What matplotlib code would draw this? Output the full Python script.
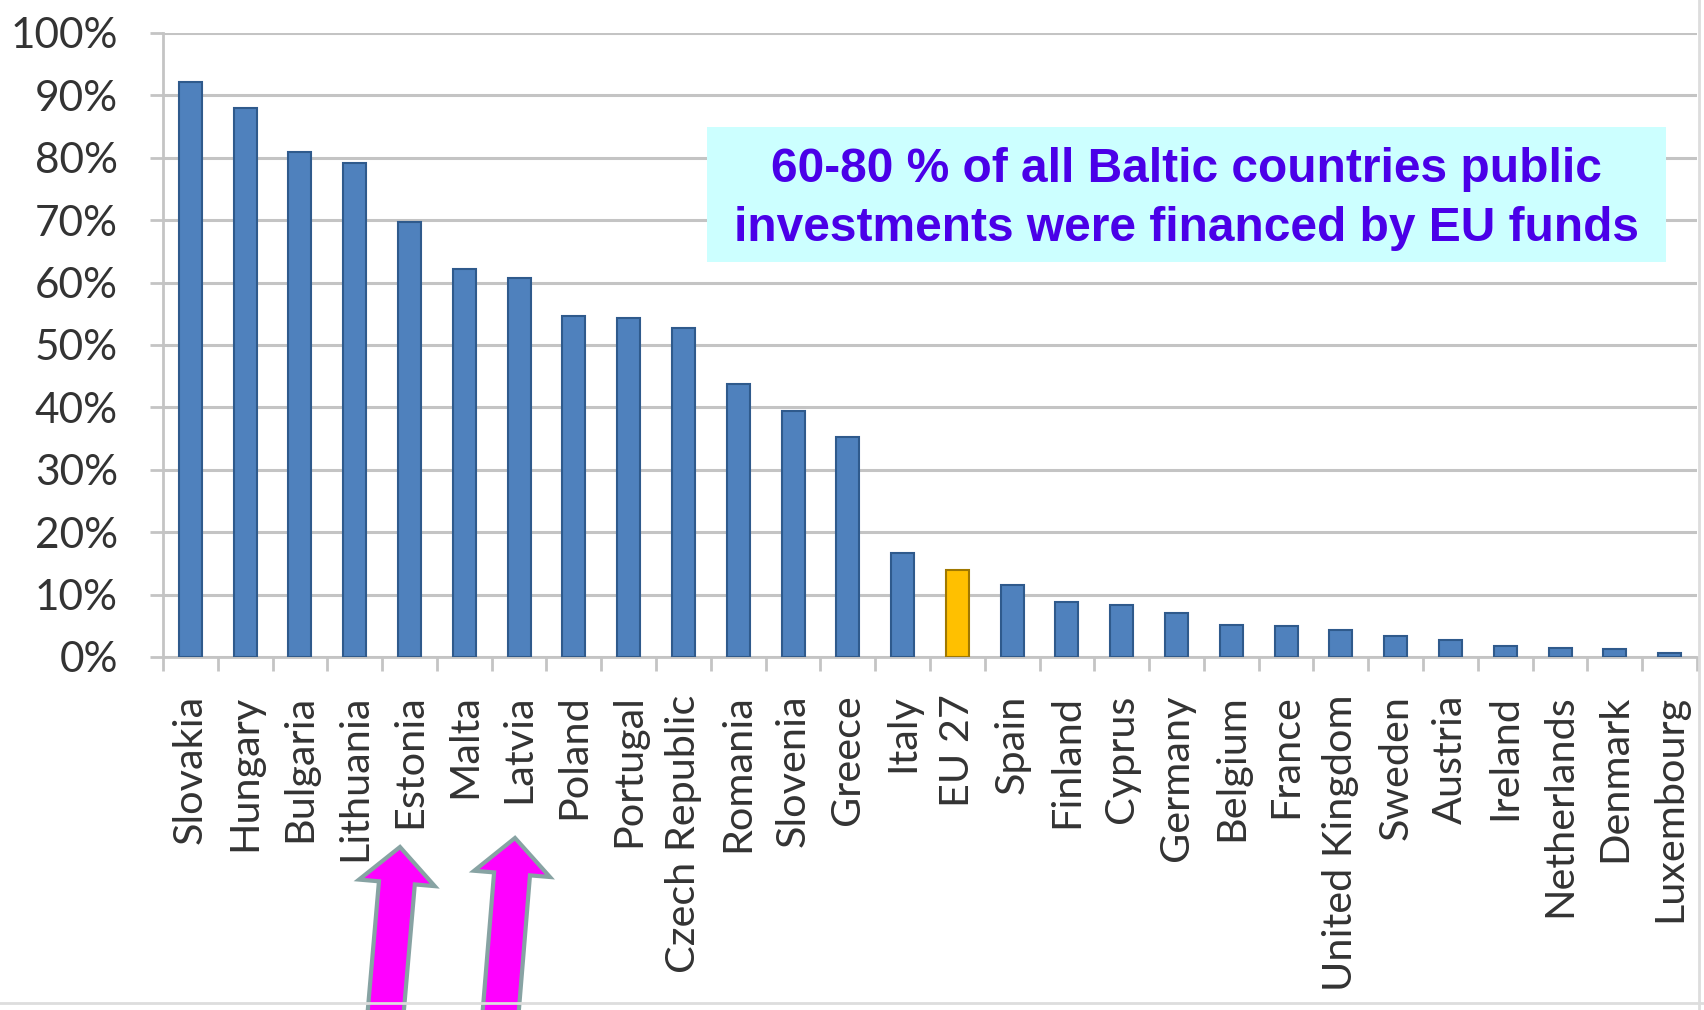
import matplotlib
matplotlib.use("Agg")
import matplotlib.pyplot as plt
from matplotlib.patches import FancyArrow, Rectangle
from matplotlib.lines import Line2D
import numpy as np

countries = ["Slovakia", "Hungary", "Bulgaria", "Lithuania", "Estonia", "Malta",
             "Latvia", "Poland", "Portugal", "Czech Republic", "Romania", "Slovenia",
             "Greece", "Italy", "EU 27", "Spain", "Finland", "Cyprus", "Germany",
             "Belgium", "France", "United Kingdom", "Sweden", "Austria", "Ireland",
             "Netherlands", "Denmark", "Luxembourg"]
shares = [92.1, 88.0, 81.0, 79.2, 69.7, 62.1, 60.7, 54.6, 54.4, 52.7, 43.7, 39.5,
          35.3, 16.7, 13.9, 11.5, 8.8, 8.3, 7.0, 5.2, 4.9, 4.3, 3.3, 2.7, 1.8,
          1.4, 1.3, 0.6]
highlight = "EU 27"
yticks = [0, 10, 20, 30, 40, 50, 60, 70, 80, 90, 100]

W, H = 1704, 1010
fig = plt.figure(figsize=(W / 100, H / 100), dpi=100)
ax = fig.add_axes([163 / W, 1 - 657 / H, (1697 - 163) / W, (657 - 33) / H])

x = np.arange(len(countries))
colors = ["#FFC000" if c == highlight else "#4F81BD" for c in countries]
edges = ["#A07800" if c == highlight else "#2F5A8C" for c in countries]
ax.bar(x, shares, width=0.42, color=colors, edgecolor=edges, linewidth=1.5, zorder=3)

ax.set_xlim(-0.5, len(countries) - 0.5)
ax.set_ylim(0, 100)
ax.set_yticks(yticks)
ax.set_yticklabels([f"{v}%" for v in yticks])
ax.yaxis.grid(True, color="#C4C4C4", linewidth=2.2, zorder=0)
ax.set_axisbelow(True)

ax.set_xticks(x)
ax.set_xticklabels(countries, rotation=90, va="top", ha="center")
ax.set_xticks(np.arange(len(countries) + 1) - 0.5, minor=True)

for lab in ax.get_xticklabels():
    lab.set_fontfamily("Lato")
    lab.set_fontsize(29.8)
    lab.set_color("#333333")
for lab in ax.get_yticklabels():
    lab.set_fontfamily("Lato")
    lab.set_fontsize(30.5)
    lab.set_color("#333333")

ax.tick_params(axis="y", length=9.5, width=2, color="#C4C4C4", pad=23)
ax.tick_params(axis="x", which="major", length=0, pad=27)
ax.tick_params(axis="x", which="minor", length=10, width=2, color="#C4C4C4")

for side in ["top", "right"]:
    ax.spines[side].set_visible(False)
for side in ["left", "bottom"]:
    ax.spines[side].set_color("#C4C4C4")
    ax.spines[side].set_linewidth(2)

# callout box
fig.add_artist(Rectangle((707 / W, 1 - 262 / H), (1666 - 707) / W, (262 - 127) / H,
                         transform=fig.transFigure, facecolor="#CCFFFF",
                         edgecolor="none", zorder=4))
fig.text(1186 / W, 1 - 199 / H,
         "60-80 % of all Baltic countries public\ninvestments were financed by EU funds",
         ha="center", va="center", family="Liberation Sans", fontweight="bold",
         fontsize=34.5, color="#4A00E8", linespacing=1.38, zorder=5)

# arrows pointing at Estonia and Latvia
tr = fig.dpi_scale_trans
for bx, by, tx, ty in [(385, 1020, 400, 847), (500, 1020, 515, 838)]:
    arr = FancyArrow(bx / 100, (H - by) / 100, (tx - bx) / 100, (by - ty) / 100,
                     width=0.36, head_width=0.76, head_length=0.36,
                     length_includes_head=True, facecolor="#FF00FF",
                     edgecolor="#87A3A3", linewidth=3, transform=tr)
    fig.add_artist(arr)

# chart outer border
fig.add_artist(Line2D([1699 / W, 1699 / W], [0, 1], color="#DDDDDD", linewidth=2))
fig.add_artist(Line2D([0, 1], [1 - 1003 / H, 1 - 1003 / H], color="#DDDDDD", linewidth=2))

fig.savefig("out.png", dpi=100)
